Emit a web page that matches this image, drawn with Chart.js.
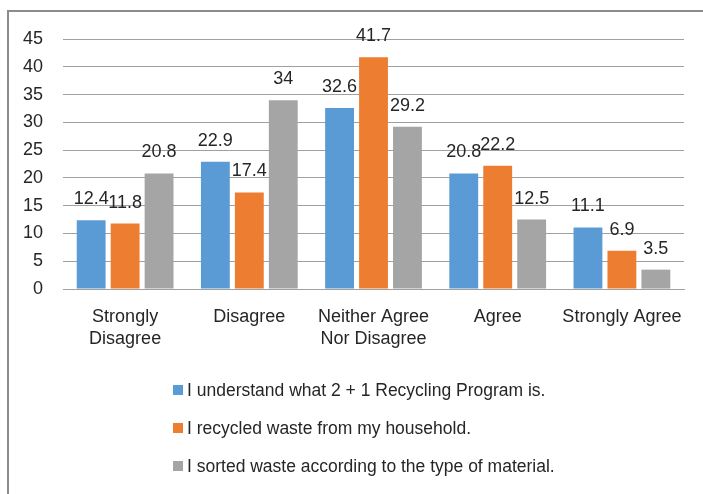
<!DOCTYPE html>
<html>
<head>
<meta charset="utf-8">
<script src="https://cdn.jsdelivr.net/npm/chart.js@4.4.1/dist/chart.umd.min.js"></script>
<style>
  html, body { margin: 0; padding: 0; background: #fff; }
  #wrap { position: relative; width: 703px; height: 494px; overflow: hidden; }
  #frame { position: absolute; left: 7px; top: 10px; width: 720px; height: 500px;
           border-left: 2px solid #8c8c8c; border-top: 2px solid #8c8c8c; box-sizing: border-box; }
  canvas { position: absolute; left: 0; top: 0; }
</style>
</head>
<body>
<div id="wrap">
  <div id="frame"></div>
  <canvas id="surveyChart" width="703" height="494"></canvas>
</div>
<script>
// Survey responses (%)
const categories = [
  ['Strongly', 'Disagree'],
  'Disagree',
  ['Neither Agree', 'Nor Disagree'],
  'Agree',
  'Strongly Agree'
];
const seriesNames = [
  'I understand what 2 + 1 Recycling Program is.',
  'I recycled waste from my household.',
  'I sorted waste according to the type of material.'
];
const understandValues = [12.4, 22.9, 32.6, 20.8, 11.1];
const recycledValues = [11.8, 17.4, 41.7, 22.2, 6.9];
const sortedValues = [20.8, 34, 29.2, 12.5, 3.5];
const yTicks = [0, 5, 10, 15, 20, 25, 30, 35, 40, 45];
const colors = ['#5b9bd5', '#ed7d31', '#a5a5a5'];

const fontFamily = "'Liberation Sans', Arial, sans-serif";

// value labels above each bar
const barLabels = {
    id: 'barLabels',
    afterDatasetsDraw(chart) {
        const ctx = chart.ctx;
        ctx.save();
        ctx.font = '18px ' + fontFamily;
        ctx.fillStyle = '#262626';
        ctx.textAlign = 'center';
        ctx.textBaseline = 'alphabetic';
        chart.data.datasets.forEach((ds, i) => {
            chart.getDatasetMeta(i).data.forEach((bar, j) => {
                ctx.fillText(String(ds.data[j]), bar.x, bar.y - 16);
            });
        });
        ctx.restore();
    }
};

// vertical legend under the axis
const stackedLegend = {
    id: 'stackedLegend',
    afterDraw(chart) {
        const ctx = chart.ctx;
        ctx.save();
        ctx.font = '17.5px ' + fontFamily;
        ctx.textBaseline = 'middle';
        chart.data.datasets.forEach((ds, i) => {
            const y = 390 + i * 38;
            ctx.fillStyle = ds.backgroundColor;
            ctx.fillRect(173, y - 5, 10, 10);
            ctx.fillStyle = '#262626';
            ctx.fillText(ds.label, 187, y + 1);
        });
        ctx.restore();
    }
};

const surveyCtx = document.getElementById('surveyChart').getContext('2d');
new Chart(surveyCtx, {
    type: 'bar',
    data: {
        labels: categories,
        datasets: [
            { label: seriesNames[0], data: understandValues, backgroundColor: colors[0] },
            { label: seriesNames[1], data: recycledValues, backgroundColor: colors[1] },
            { label: seriesNames[2], data: sortedValues, backgroundColor: colors[2] }
        ]
    },
    options: {
        responsive: false,
        animation: false,
        layout: { padding: { top: 39, right: 19, bottom: 127, left: 3 } },
        datasets: {
            bar: { categoryPercentage: 0.82, barPercentage: 0.85 }
        },
        scales: {
            x: {
                grid: { display: false, drawTicks: false },
                border: { display: true, color: '#a0a0a0', width: 1 },
                ticks: {
                    color: '#262626',
                    padding: 17,
                    maxRotation: 0,
                    autoSkip: false,
                    font: { family: fontFamily, size: 18, lineHeight: 1.22 }
                }
            },
            y: {
                min: 0,
                max: 45,
                afterBuildTicks(axis) { axis.ticks = yTicks.map(v => ({ value: v })); },
                grid: { color: '#a0a0a0', lineWidth: 1, drawTicks: false },
                border: { display: false },
                ticks: {
                    color: '#262626',
                    padding: 20,
                    font: { family: fontFamily, size: 18 }
                }
            }
        },
        plugins: {
            legend: { display: false },
            tooltip: { enabled: false }
        }
    },
    plugins: [barLabels, stackedLegend]
});
</script>
</body>
</html>
